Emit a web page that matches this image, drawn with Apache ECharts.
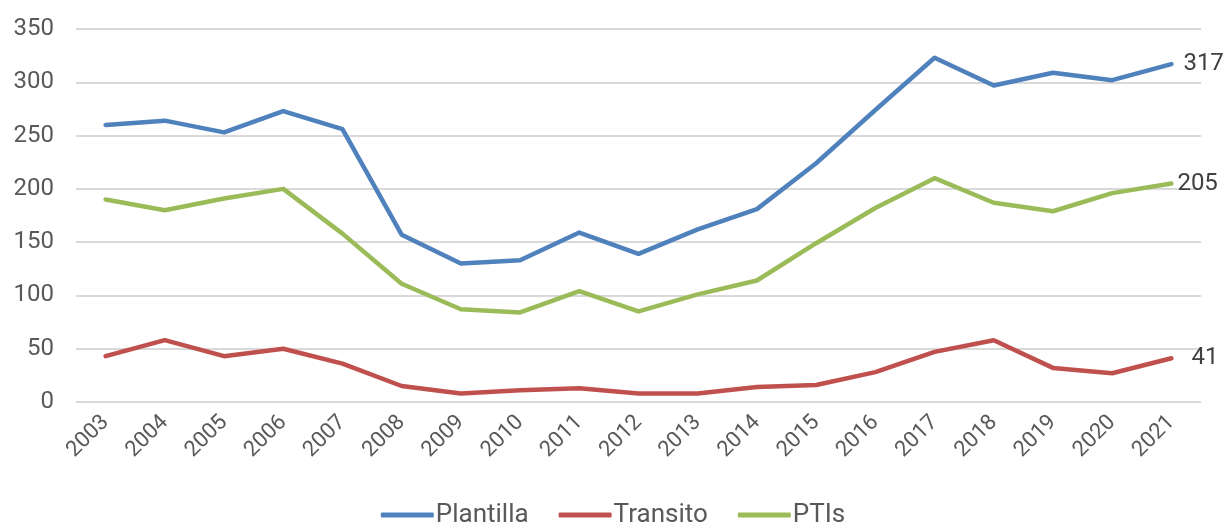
<!DOCTYPE html>
<html><head><meta charset="utf-8">
<script src="https://cdn.jsdelivr.net/npm/echarts@6/dist/echarts.min.js"></script>
<style>html,body{margin:0;padding:0;background:#fff}#c{width:1226px;height:523px}</style>
</head><body><div id="c"></div>
<script>
const years = ['2003','2004','2005','2006','2007','2008','2009','2010','2011','2012','2013','2014','2015','2016','2017','2018','2019','2020','2021'];
const plantilla = [260,264,253,273,256,157,130,133,159,139,162,181,224,274,323,297,309,302,317];
const transito = [43,58,43,50,36,15,8,11,13,8,8,14,16,28,47,58,32,27,41];
const ptis = [190,180,191,200,158,111,87,84,104,85,101,114,149,182,210,187,179,196,205];
const yTicks = [0,50,100,150,200,250,300,350];

const txt = '#595959';
const font = 'Roboto';
function mk(name, data, color, dist){
  return {
    name, type:'line', data, symbol:'none', smooth:false,
    lineStyle:{width:4.5, color, cap:'round', join:'round'}, itemStyle:{color},
    endLabel:{show:true, distance:dist, color:'#404040', fontSize:24, fontFamily:font,
      formatter: p => String(p.value)},
    emphasis:{disabled:true}
  };
}
const chart = echarts.init(document.getElementById('c'));
chart.setOption({
  animation:false,
  grid:{left:76, right:25, top:29, bottom:121, containLabel:false},
  xAxis:{type:'category', data:years, boundaryGap:true,
    axisLine:{show:false}, axisTick:{show:false},
    axisLabel:{rotate:45, color:txt, fontSize:22, fontFamily:font, margin:17, interval:0}},
  yAxis:{type:'value', min:yTicks[0], max:yTicks[yTicks.length-1], interval:50,
    axisLine:{show:false}, axisTick:{show:false},
    splitLine:{lineStyle:{color:'#d9d9d9', width:2}},
    axisLabel:{color:txt, fontSize:24, fontFamily:font, margin:22}},
  legend:{top:497, left:'center', itemWidth:53, itemHeight:5, itemGap:30, icon:'roundRect',
    textStyle:{color:txt, fontSize:26, fontFamily:font, padding:[0,0,0,-3]}},
  series:[mk('Plantilla', plantilla, '#4f81bd', 12), mk('Transito', transito, '#c0504d', 20), mk('PTIs', ptis, '#9bbb59', 6)]
});
</script></body></html>
